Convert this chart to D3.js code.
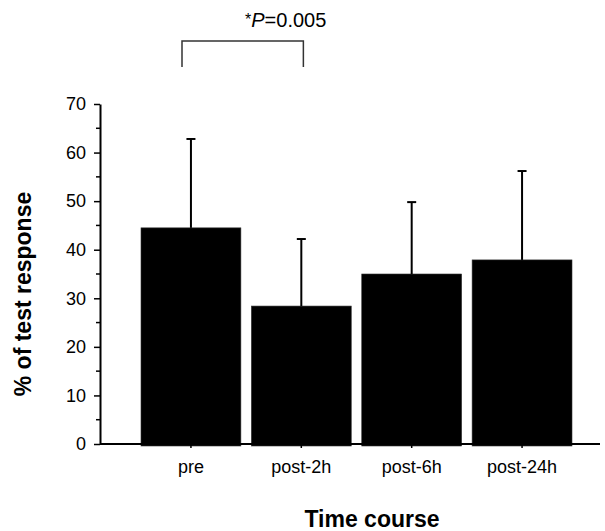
<!DOCTYPE html>
<html>
<head>
<meta charset="utf-8">
<script src="https://cdn.jsdelivr.net/npm/d3@7"></script>
<style>
  body { margin: 0; background: #fff; }
  text { font-family: "Liberation Sans", Arial, sans-serif; fill: #000; }
</style>
</head>
<body>
<div id="graph1"></div>
<script>
// data
const categories = ["pre", "post-2h", "post-6h", "post-24h"];
const means = [44.5, 28.4, 35.0, 37.9];
const errors = [18.3, 13.8, 14.8, 18.3];
const yTicks = [0, 10, 20, 30, 40, 50, 60, 70];
const sigPair = ["pre", "post-2h"];
const sigLabel = "P=0.005";

const width = 605, height = 531;

let svg = d3.select("#graph1")
    .append("svg")
    .attr("width", width)
    .attr("height", height);

let x = d3.scaleBand()
    .domain(categories)
    .range([141, 572])
    .paddingInner(0.095)
    .paddingOuter(0);

let y = d3.scaleLinear()
    .domain([0, 70])
    .range([444, 104]);

// bars
svg.append("g").selectAll("rect")
    .data(categories)
    .enter()
    .append("rect")
    .attr("x", function(d) { return x(d); })
    .attr("y", function(d, i) { return y(means[i]); })
    .attr("width", x.bandwidth())
    .attr("height", function(d, i) { return y(0) - y(means[i]) + 2; })
    .attr("fill", "#000")
    .attr("stroke", "#333")
    .attr("stroke-width", 0.6);

// error bars (upper only)
let err = svg.append("g").attr("stroke", "#000").attr("stroke-width", 2);
categories.forEach(function(c, i) {
    let cx = x(c) + x.bandwidth() / 2;
    err.append("line")
        .attr("x1", cx).attr("x2", cx)
        .attr("y1", y(means[i])).attr("y2", y(means[i] + errors[i]));
    err.append("line")
        .attr("x1", cx - 4.5).attr("x2", cx + 4.5)
        .attr("y1", y(means[i] + errors[i])).attr("y2", y(means[i] + errors[i]));
});

// y axis
let yAxis = svg.append("g")
    .attr("transform", "translate(100,0)")
    .call(d3.axisLeft(y).tickValues(yTicks).tickSize(6).tickPadding(8).tickSizeOuter(0));
yAxis.select(".domain").attr("stroke-width", 2);
yAxis.selectAll(".tick line").attr("stroke-width", 1.5);
yAxis.selectAll("text")
    .style("font-size", "18px")
    .style("font-family", "Liberation Sans, Arial, sans-serif");
// minor ticks
svg.append("g")
    .attr("transform", "translate(100,0)")
    .selectAll("line")
    .data(d3.range(5, 70, 10))
    .enter()
    .append("line")
    .attr("x1", -4).attr("x2", 0)
    .attr("y1", function(d) { return y(d); })
    .attr("y2", function(d) { return y(d); })
    .attr("stroke", "#000")
    .attr("stroke-width", 1.5);

// x axis
svg.append("line")
    .attr("x1", 100).attr("x2", 600)
    .attr("y1", y(0)).attr("y2", y(0))
    .attr("stroke", "#000")
    .attr("stroke-width", 2);
svg.append("g").selectAll("line")
    .data(categories)
    .enter()
    .append("line")
    .attr("x1", function(d) { return x(d) + x.bandwidth() / 2; })
    .attr("x2", function(d) { return x(d) + x.bandwidth() / 2; })
    .attr("y1", y(0)).attr("y2", y(0) + 4)
    .attr("stroke", "#000")
    .attr("stroke-width", 1.5);
svg.append("g").selectAll("text")
    .data(categories)
    .enter()
    .append("text")
    .attr("x", function(d) { return x(d) + x.bandwidth() / 2; })
    .attr("y", 473)
    .style("text-anchor", "middle")
    .style("font-size", "18px")
    .text(function(d) { return d; });

// axis titles
svg.append("text")
    .attr("transform", "translate(372,527)")
    .style("text-anchor", "middle")
    .style("font-size", "23px")
    .style("font-weight", "bold")
    .text("Time course");
svg.append("text")
    .attr("transform", "translate(31,294) rotate(-90)")
    .style("text-anchor", "middle")
    .style("font-size", "23px")
    .style("font-weight", "bold")
    .text("% of test response");

// significance bracket
let bx1 = x(sigPair[0]) + 41;
let bx2 = x(sigPair[1]) + 52;
svg.append("path")
    .attr("d", `M${bx1},67 V41 H${bx2} V67`)
    .attr("fill", "none")
    .attr("stroke", "#333")
    .attr("stroke-width", 1.5);
let sig = svg.append("text")
    .attr("x", 245)
    .attr("y", 27)
    .style("font-size", "20px");
sig.append("tspan").style("font-size", "16px").attr("dy", -2).text("*");
sig.append("tspan").style("font-style", "italic").attr("dy", 2).text(sigLabel.slice(0, 1));
sig.append("tspan").text(sigLabel.slice(1));
</script>
</body>
</html>
